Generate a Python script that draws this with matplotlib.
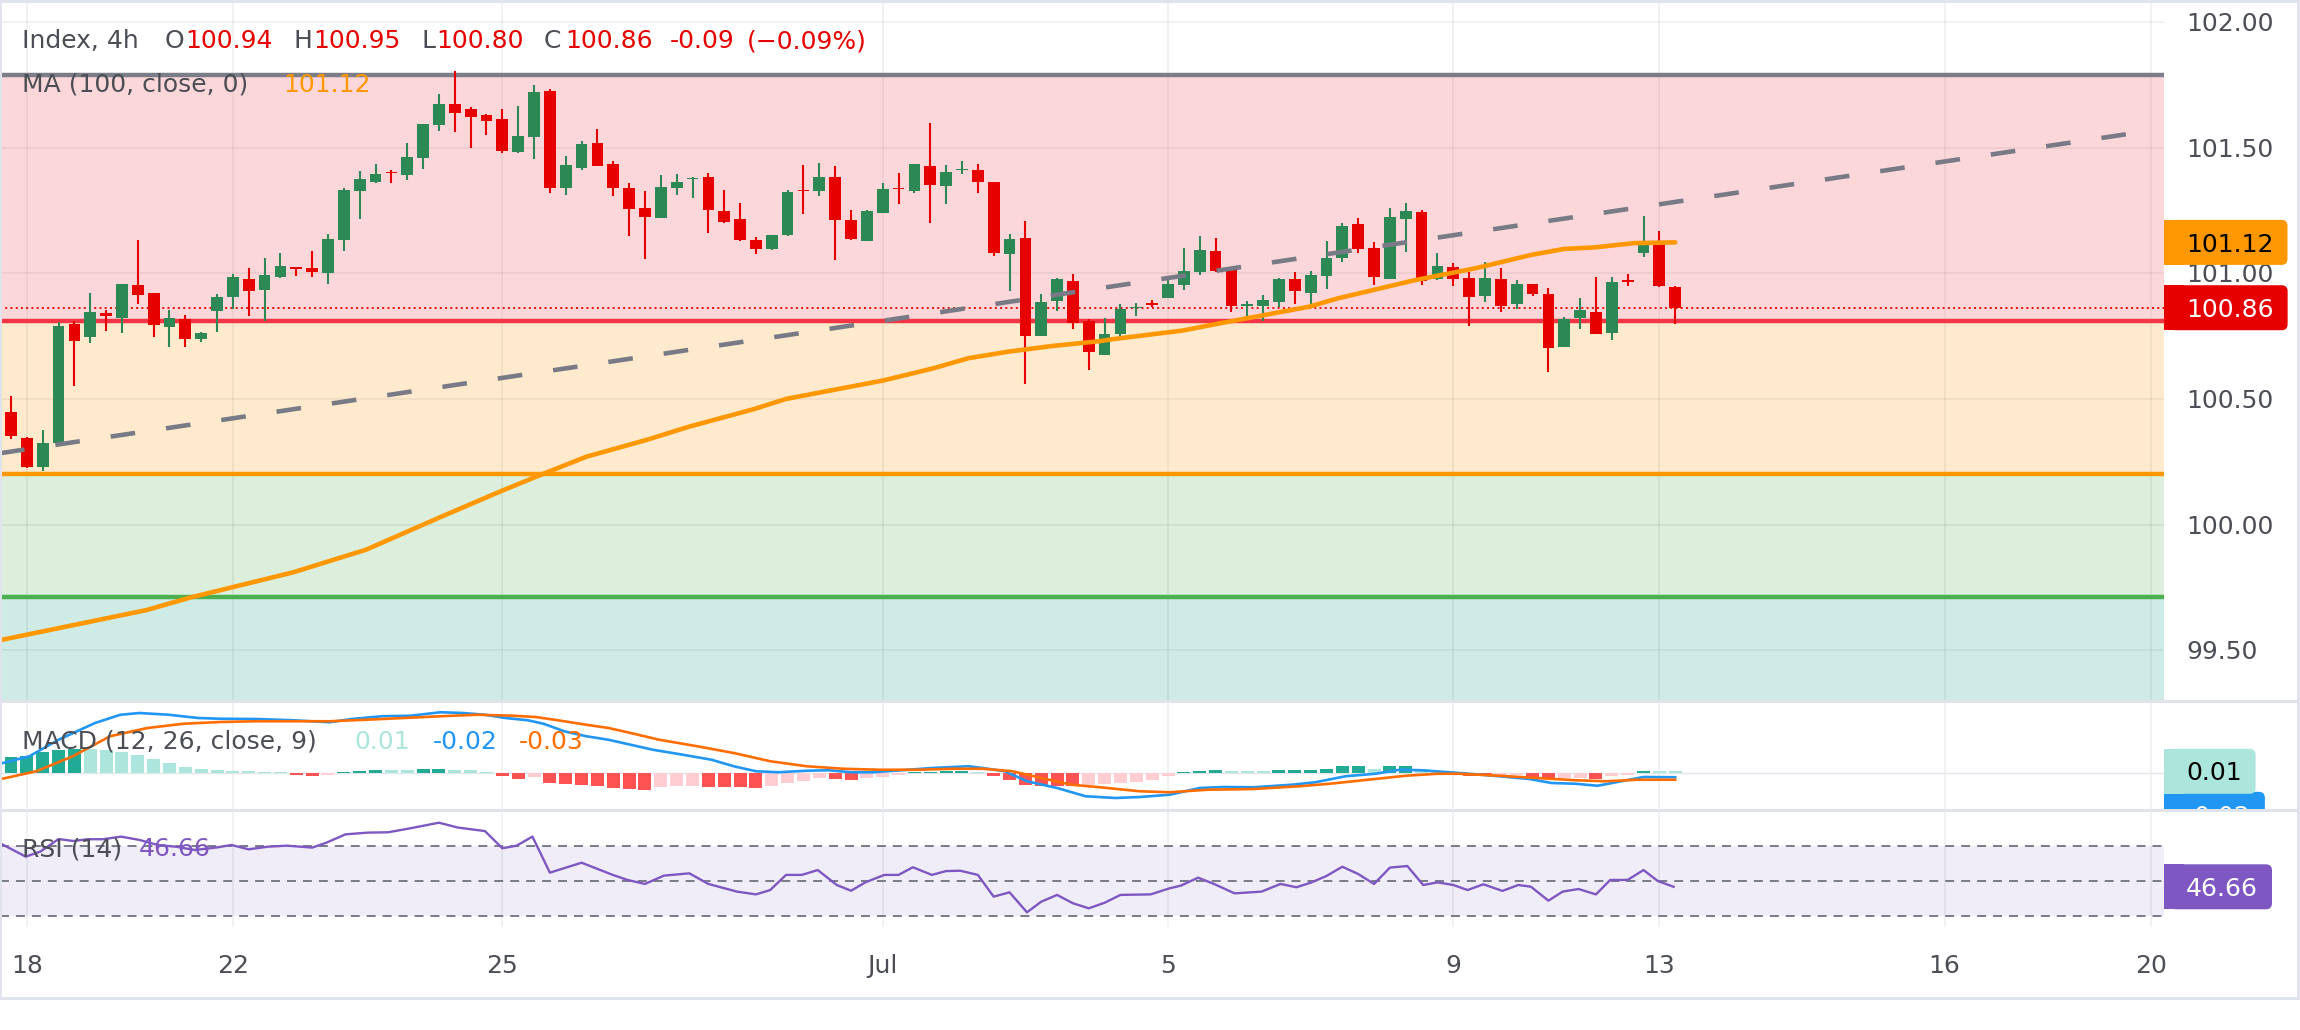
import matplotlib
matplotlib.use("Agg")
import matplotlib.pyplot as plt
from matplotlib.patches import Rectangle, FancyBboxPatch
import numpy as np

plt.rcParams['font.family'] = ['DejaVu Sans', 'Noto Sans']

# ---------------- data ----------------
opens = [100.447, 100.343, 100.231, 100.323, 100.798, 100.748, 100.841, 100.824, 100.952, 100.920,
         100.788, 100.817, 100.740, 100.851, 100.907, 100.976, 100.934, 100.987, 101.026, 101.020,
         101.003, 101.133, 101.329, 101.365, 101.402, 101.391, 101.460, 101.590, 101.674, 101.653,
         101.630, 101.613, 101.484, 101.544, 101.725, 101.338, 101.418, 101.517, 101.435, 101.340,
         101.260, 101.221, 101.341, 101.374, 101.383, 101.248, 101.216, 101.133, 101.097, 101.152,
         101.332, 101.328, 101.383, 101.211, 101.130, 101.241, 101.340, 101.329, 101.427, 101.347,
         101.410, 101.411, 101.363, 101.077, 101.141, 100.751, 100.891, 100.969, 100.810, 100.675,
         100.758, 100.861, 100.880, 100.903, 100.954, 101.007, 101.089, 101.013, 100.871, 100.871,
         100.887, 100.977, 100.923, 100.991, 101.062, 101.196, 101.099, 100.977, 101.216, 101.244,
         100.977, 101.024, 100.980, 100.911, 100.976, 100.877, 100.956, 100.916, 100.708, 100.824,
         100.847, 100.764, 100.973, 101.082, 101.125, 100.944]
highs = [100.512, 100.350, 100.377, 100.805, 100.810, 100.920, 100.854, 100.958, 101.131, 100.920,
         100.854, 100.833, 100.766, 100.916, 100.996, 101.020, 101.060, 101.079, 101.026, 101.087,
         101.156, 101.340, 101.407, 101.435, 101.411, 101.517, 101.593, 101.714, 101.805, 101.660,
         101.634, 101.653, 101.666, 101.749, 101.732, 101.467, 101.527, 101.574, 101.447, 101.358,
         101.327, 101.391, 101.395, 101.382, 101.399, 101.332, 101.279, 101.143, 101.152, 101.332,
         101.431, 101.439, 101.427, 101.252, 101.252, 101.359, 101.399, 101.435, 101.598, 101.431,
         101.447, 101.435, 101.363, 101.156, 101.208, 100.918, 100.981, 100.997, 100.818, 100.824,
         100.878, 100.880, 100.894, 100.980, 101.099, 101.148, 101.139, 101.016, 100.891, 100.914,
         100.980, 101.005, 101.009, 101.129, 101.199, 101.219, 101.126, 101.259, 101.279, 101.252,
         101.079, 101.040, 101.004, 101.044, 101.020, 100.973, 100.956, 100.940, 100.825, 100.900,
         100.987, 100.987, 100.998, 101.228, 101.168, 100.949]
lows = [100.339, 100.225, 100.215, 100.320, 100.553, 100.721, 100.772, 100.764, 100.878, 100.748,
        100.708, 100.705, 100.728, 100.768, 100.859, 100.831, 100.812, 100.980, 100.991, 100.987,
        100.957, 101.090, 101.216, 101.358, 101.361, 101.371, 101.415, 101.568, 101.564, 101.500,
        101.550, 101.480, 101.480, 101.454, 101.318, 101.313, 101.411, 101.428, 101.309, 101.150,
        101.057, 101.221, 101.312, 101.301, 101.162, 101.199, 101.129, 101.077, 101.093, 101.148,
        101.236, 101.308, 101.053, 101.133, 101.130, 101.241, 101.276, 101.321, 101.200, 101.276,
        101.395, 101.320, 101.069, 100.931, 100.561, 100.751, 100.851, 100.780, 100.615, 100.675,
        100.751, 100.830, 100.867, 100.903, 100.934, 100.993, 101.005, 100.847, 100.824, 100.812,
        100.867, 100.878, 100.861, 100.938, 101.046, 101.080, 100.954, 100.977, 101.086, 100.954,
        100.973, 100.951, 100.792, 100.887, 100.847, 100.857, 100.910, 100.606, 100.708, 100.777,
        100.757, 100.735, 100.951, 101.066, 100.947, 100.798]
closes = [100.354, 100.231, 100.323, 100.790, 100.732, 100.845, 100.832, 100.958, 100.915, 100.796,
          100.821, 100.740, 100.761, 100.904, 100.984, 100.931, 100.992, 101.028, 101.016, 101.007,
          101.135, 101.332, 101.374, 101.394, 101.398, 101.461, 101.593, 101.674, 101.639, 101.623,
          101.607, 101.488, 101.546, 101.723, 101.338, 101.430, 101.515, 101.428, 101.338, 101.257,
          101.225, 101.344, 101.363, 101.379, 101.253, 101.204, 101.133, 101.098, 101.152, 101.324,
          101.326, 101.383, 101.212, 101.137, 101.248, 101.336, 101.334, 101.435, 101.351, 101.403,
          101.415, 101.363, 101.082, 101.137, 100.751, 100.886, 100.977, 100.802, 100.688, 100.758,
          100.858, 100.867, 100.874, 100.958, 101.009, 101.093, 101.009, 100.870, 100.878, 100.894,
          100.977, 100.931, 100.993, 101.060, 101.188, 101.097, 100.987, 101.223, 101.248, 100.971,
          101.029, 100.977, 100.907, 100.980, 100.870, 100.956, 100.916, 100.701, 100.817, 100.854,
          100.757, 100.964, 100.967, 101.125, 100.949, 100.863]

# MA(100) line, read at bar positions
ma_x = [-0.69, 8.56, 11.33, 17.8, 22.4, 27.1, 30.8, 33.5, 36.3, 40.1, 42.8, 46.9, 48.9, 51.4, 55.0,
        58.2, 60.4, 62.9, 65.6, 68.7, 69.4, 73.9, 76.2, 81.9, 83.7, 88.6, 92.4, 95.9, 98.0, 99.9,
        102.4, 105.0]
ma_y = [99.54, 99.66, 99.71, 99.81, 99.90, 100.03, 100.13, 100.20, 100.27, 100.337, 100.39, 100.46,
        100.50, 100.53, 100.573, 100.622, 100.662, 100.688, 100.71, 100.73, 100.737, 100.772, 100.80,
        100.867, 100.90, 100.973, 101.02, 101.073, 101.097, 101.103, 101.12, 101.123]

# dashed trend line end points (bar, price)
trend_x = [-0.69, 134.8]
trend_y = [100.284, 101.566]

# horizontal levels
level_top = 101.79
level_red = 100.81
level_orange = 100.20
level_green = 99.71

# MACD histogram per bar
hist = [0.064, 0.069, 0.084, 0.093, 0.098, 0.096, 0.091, 0.084, 0.074, 0.058,
        0.042, 0.026, 0.0144, 0.011, 0.009, 0.007, 0.004, 0.003, -0.008, -0.012,
        -0.007, 0.0044, 0.008, 0.012, 0.0116, 0.0112, 0.0152, 0.016, 0.0136, 0.0104,
        0.0052, -0.012, -0.022, -0.016, -0.0388, -0.042, -0.046, -0.052, -0.058, -0.0632,
        -0.066, -0.0568, -0.0512, -0.0504, -0.056, -0.0572, -0.0576, -0.058, -0.0532, -0.040,
        -0.0332, -0.0212, -0.0232, -0.0268, -0.0212, -0.0148, -0.0092, 0.004, 0.0052, 0.0068,
        0.008, 0.0052, -0.0132, -0.0268, -0.0468, -0.0508, -0.0516, -0.0528, -0.0468, -0.042,
        -0.040, -0.034, -0.0268, -0.0132, 0.004, 0.0092, 0.0132, 0.008, 0.0068, 0.0064,
        0.0108, 0.0112, 0.0116, 0.016, 0.0268, 0.0272, 0.0172, 0.0268, 0.0292, 0.0172,
        0.0068, -0.0028, -0.0108, -0.0112, -0.0068, -0.006, -0.020, -0.0208, -0.0192, -0.018,
        -0.024, -0.0132, -0.008, 0.0092, 0.0088, 0.0068]

macd_x = [-0.69, 1.16, 3.0, 5.3, 6.9, 8.1, 9.95, 11.8, 13.2, 15.5, 17.8, 20.1, 21.5, 23.4, 25.2,
          27.1, 28.5, 29.9, 31.2, 32.6, 33.6, 34.9, 36.3, 37.7, 39.1, 40.5, 42.4, 44.2, 45.6, 47.0,
          48.4, 50.2, 51.6, 53.0, 54.4, 56.2, 58.1, 60.4, 61.3, 62.7, 64.1, 66.0, 67.8, 69.7, 71.2,
          73.1, 75.0, 76.5, 78.4, 80.8, 82.3, 84.2, 86.1, 87.6, 89.0, 91.4, 93.9, 95.8, 97.2, 98.7,
          100.1, 101.6, 103.0, 105.0]
macd_y = [0.037, 0.067, 0.133, 0.200, 0.233, 0.240, 0.233, 0.220, 0.217, 0.216, 0.211, 0.203, 0.216,
          0.227, 0.229, 0.243, 0.240, 0.233, 0.220, 0.211, 0.197, 0.167, 0.147, 0.133, 0.113, 0.093,
          0.073, 0.053, 0.027, 0.007, 0.003, 0.009, 0.011, 0.003, 0.003, 0.011, 0.020, 0.027, 0.020,
          0.007, -0.033, -0.060, -0.093, -0.100, -0.096, -0.087, -0.060, -0.056, -0.057, -0.047,
          -0.037, -0.013, -0.003, 0.013, 0.011, 0.000, -0.013, -0.024, -0.040, -0.043, -0.051,
          -0.033, -0.016, -0.017]
signal_x = [-0.69, 1.6, 3.9, 6.25, 8.6, 10.9, 13.2, 15.5, 17.8, 20.1, 22.4, 24.8, 27.1, 29.4, 31.7,
            33.1, 34.5, 36.3, 37.7, 39.1, 40.9, 43.3, 45.6, 47.9, 50.2, 52.5, 54.8, 57.2, 59.5, 61.3,
            63.2, 65.0, 66.9, 68.7, 71.2, 73.1, 75.5, 78.4, 81.3, 83.2, 85.6, 88.0, 90.0, 91.4, 93.9,
            96.3, 98.7, 100.6, 102.6, 105.0]
signal_y = [-0.025, 0.007, 0.067, 0.147, 0.180, 0.197, 0.204, 0.207, 0.207, 0.207, 0.213, 0.220,
            0.227, 0.233, 0.229, 0.224, 0.211, 0.193, 0.180, 0.160, 0.133, 0.107, 0.080, 0.047,
            0.027, 0.017, 0.013, 0.013, 0.017, 0.017, 0.007, -0.020, -0.047, -0.057, -0.073, -0.077,
            -0.067, -0.064, -0.053, -0.043, -0.027, -0.011, -0.003, -0.003, -0.011, -0.020, -0.029,
            -0.033, -0.027, -0.027]

rsi_x = [-0.69, 0.93, 1.85, 3.0, 3.94, 4.86, 5.8, 6.95, 8.1, 9.26, 10.4, 11.6, 13.0, 13.9, 15.0,
         16.2, 17.4, 19.0, 19.9, 21.1, 22.5, 23.8, 25.2, 27.0, 28.2, 29.9, 31.0, 31.9, 32.9, 34.0,
         36.0, 38.0, 38.9, 40.0, 41.2, 42.8, 44.0, 45.8, 47.0, 47.9, 48.9, 49.9, 50.9, 52.1, 53.0,
         53.9, 55.1, 56.0, 56.9, 58.1, 59.0, 59.9, 61.0, 62.0, 63.0, 64.1, 65.0, 66.0, 67.0, 68.0,
         69.0, 70.0, 71.9, 73.1, 73.8, 74.9, 75.9, 77.2, 78.9, 80.1, 81.1, 82.0, 83.0, 84.0, 85.0,
         86.0, 87.0, 88.1, 89.1, 90.0, 91.0, 91.9, 92.9, 94.1, 95.1, 95.9, 97.0, 97.9, 98.9, 100.0,
         100.9, 102.0, 103.0, 103.9, 104.9]
rsi_y = [71.7, 64.0, 66.9, 74.1, 73.0, 74.0, 74.0, 75.5, 73.6, 70.7, 69.7, 67.8, 69.3, 70.7, 68.2,
         69.7, 70.3, 69.2, 72.0, 76.8, 77.8, 78.0, 80.3, 83.5, 80.7, 78.7, 68.8, 70.3, 75.5, 54.8,
         60.5, 53.4, 50.6, 48.3, 53.1, 54.4, 48.3, 43.9, 42.3, 44.8, 53.5, 53.5, 56.3, 47.7, 44.4,
         49.2, 53.5, 53.5, 57.9, 53.5, 55.7, 55.9, 53.5, 41.0, 43.5, 32.0, 38.1, 42.0, 37.2, 34.3,
         37.5, 42.0, 42.3, 45.8, 47.3, 51.9, 48.3, 42.9, 43.9, 48.3, 46.4, 49.0, 52.9, 58.2, 54.0,
         48.3, 57.7, 58.6, 47.7, 49.2, 47.7, 44.8, 48.1, 44.3, 47.7, 46.7, 38.7, 43.9, 45.4, 42.3,
         50.6, 50.6, 56.3, 50.0, 46.66]

tick_pos = [1, 14, 31, 55, 73, 91, 104, 122, 135]
tick_labels = ['18', '22', '25', 'Jul', '5', '9', '13', '16', '20']
price_ticks = [99.5, 100.0, 100.5, 101.0, 101.5, 102.0]

# ---------------- styling ----------------
W, H, DPI = 2300, 1030, 100
PANE_R = 2164
TXT = '#4c4e56'
GREEN = '#2c8956'
RED = '#e60000'
FS = 18

fig = plt.figure(figsize=(W / DPI, H / DPI), dpi=DPI)
fig.patch.set_facecolor('white')


def add_pane(top, bottom):
    a = fig.add_axes([0, 1 - bottom / H, PANE_R / W, (bottom - top) / H])
    a.set_xlim(-0.694, 135.84)
    a.set_axis_off()
    return a


ax_p = add_pane(3, 700)
ax_m = add_pane(703, 810)
ax_r = add_pane(810, 927)

ax_p.set_ylim(99.302, 102.0756)
ax_m.set_ylim(-0.148, 0.28)
ax_r.set_ylim(23.56, 90.8)

GRID = dict(color='black', alpha=0.055, lw=1.3)

# ---- price pane ----
y0, y1 = ax_p.get_ylim()
ax_p.axhspan(level_red, level_top, color='#fcd7da', lw=0, zorder=0)
ax_p.axhspan(level_orange, level_red, color='#ffeacd', lw=0, zorder=0)
ax_p.axhspan(level_green, level_orange, color='#dbefdc', lw=0, zorder=0)
ax_p.axhspan(y0, level_green, color='#cfebe6', lw=0, zorder=0)
for v in price_ticks:
    ax_p.axhline(v, zorder=0.5, **GRID)
for a in (ax_p, ax_m, ax_r):
    for t in tick_pos:
        a.axvline(t, zorder=0.5, **GRID)

ax_p.axhline(level_top, color='#7b7d89', lw=3.2, zorder=1)
ax_p.axhline(level_red, color='#f23645', lw=3.2, zorder=1)
ax_p.axhline(level_orange, color='#ff9800', lw=3.2, zorder=1)
ax_p.axhline(level_green, color='#4caf50', lw=3.2, zorder=1)
ax_p.axhline(closes[-1], color=RED, lw=1.3, linestyle=(0, (1.1, 1.8)), zorder=1.2)

o = np.array(opens); h = np.array(highs); l = np.array(lows); c = np.array(closes)
x = np.arange(len(o))
cols = [GREEN if cc >= oo else RED for oo, cc in zip(o, c)]
ax_p.vlines(x, l, h, colors=cols, lw=1.5, zorder=2)
body_b = np.minimum(o, c)
body_h = np.maximum(np.abs(c - o), 0.006)
ax_p.bar(x, body_h, bottom=body_b, width=0.74, color=cols, lw=0, zorder=2.1)

ax_p.plot(ma_x, ma_y, color='#ff9800', lw=3.3, zorder=3, solid_capstyle='round')
ax_p.plot(trend_x, trend_y, color='#787b86', lw=3.3, dashes=(5.4, 6.8), zorder=3.5)

# ---- MACD pane ----
ax_m.axhline(0, color='#e4e6ec', lw=1.0, zorder=1)
hcols = []
prev = -np.inf
for v in hist:
    if v >= 0:
        hcols.append('#22ab94' if v >= prev else '#ace5dc')
    else:
        hcols.append('#ff5252' if v < prev else '#ffcdd2')
    prev = v
ax_m.bar(x, hist, width=0.82, color=hcols, lw=0, zorder=2)
ax_m.plot(macd_x, macd_y, color='#2196f3', lw=1.9, zorder=3)
ax_m.plot(signal_x, signal_y, color='#ff6d00', lw=1.9, zorder=3)

# ---- RSI pane ----
ax_r.axhspan(30, 70, color='#7e57c2', alpha=0.1, lw=0, zorder=0)
for lv in (70, 50, 30):
    ax_r.axhline(lv, color='#787b86', lw=1.4, dashes=(4.6, 3.6), zorder=1)
ax_r.plot(rsi_x, rsi_y, color='#7e57c2', lw=1.7, zorder=3)

# ---------------- overlay (pixel coordinates) ----------------
ov = fig.add_axes([0, 0, 1, 1], zorder=10)
ov.set_xlim(0, W)
ov.set_ylim(H, 0)
ov.set_axis_off()
renderer = fig.canvas.get_renderer()


def ypx(a, v):
    return H - a.transData.transform((0, v))[1]


def xpx(a, v):
    return a.transData.transform((v, 0))[0]


SEP = '#e0e3eb'
for (yy, hh) in ((0, 3), (700, 3), (809, 2.5), (997, 2.5)):
    ov.add_patch(Rectangle((0, yy), W, hh, color=SEP, lw=0, zorder=5))
ov.add_patch(Rectangle((W - 3, 0), 3, 999, color=SEP, lw=0, zorder=5))
ov.add_patch(Rectangle((0, 0), 1.5, 999, color=SEP, lw=0, zorder=5))

CAP = 9.2  # half digit height, to centre digits on a level


def txt(xx, yy, s, color=TXT, ha='left', z=3, **kw):
    return ov.text(xx, yy, s, color=color, fontsize=FS, ha=ha, va='baseline', zorder=z, **kw)


# price axis labels
for v in price_ticks:
    txt(2186, ypx(ax_p, v) + CAP, f'{v:.2f}', z=1)

# time axis labels
for t, lab in zip(tick_pos, tick_labels):
    txt(xpx(ax_r, t), 973, lab, ha='center')


def value_box(yc, s, bg, fg, clip=None, z=2):
    t = txt(2186, yc + CAP, s, color=fg, z=z + 0.5)
    wpx = t.get_window_extent(renderer).width
    right = 2186 + wpx + 14
    r1 = Rectangle((PANE_R, yc - 22.5), 20, 45, color=bg, lw=0, zorder=z)
    r2 = FancyBboxPatch((PANE_R + 6, yc - 22.5), right - PANE_R - 6, 45,
                        boxstyle='round,pad=0,rounding_size=6', color=bg, lw=0, zorder=z)
    ov.add_patch(r1)
    ov.add_patch(r2)
    if clip is not None:
        for art in (t, r1, r2):
            art.set_clip_path(clip)


value_box(ypx(ax_p, ma_y[-1]), f'{ma_y[-1]:.2f}', '#ff9800', 'black')
value_box(ypx(ax_p, closes[-1]), f'{closes[-1]:.2f}', RED, 'white')

macd_clip = Rectangle((PANE_R, 703), W - PANE_R, 106, transform=ov.transData)
yc_hist = ypx(ax_m, hist[-1])
value_box(yc_hist + 43, f'{macd_y[-1]:.2f}', '#2196f3', 'white', clip=macd_clip, z=2)
value_box(yc_hist, f'{hist[-1]:.2f}', '#ace5dc', 'black', clip=macd_clip, z=2.8)

value_box(ypx(ax_r, rsi_y[-1]), f'{rsi_y[-1]:.2f}', '#7e57c2', 'white')

# legends
chg = closes[-1] - closes[-2]
pct = chg / closes[-2] * 100
legend_pieces = [(22, 'Index, 4h', TXT), (165, 'O', TXT), (185, f'{opens[-1]:.2f}', RED),
                 (293, 'H', TXT), (313, f'{highs[-1]:.2f}', RED),
                 (422, 'L', TXT), (436, f'{lows[-1]:.2f}', RED),
                 (544, 'C', TXT), (565, f'{closes[-1]:.2f}', RED),
                 (670, f'{chg:.2f}', RED), (747, f'(\u2212{abs(pct):.2f}%)', RED)]
for xx, s, col in legend_pieces:
    txt(xx, 48, s, color=col)

txt(22, 91.7, 'MA (100, close, 0)')
txt(283, 91.7, f'{ma_y[-1]:.2f}', color='#ff9800')

txt(22, 749, 'MACD (12, 26, close, 9)')
txt(354, 749, f'{hist[-1]:.2f}', color='#ace5dc')
txt(433, 749, f'{macd_y[-1]:.2f}', color='#2196f3')
txt(519, 749, f'{signal_y[-1]:.2f}', color='#ff6d00')

txt(22, 856, 'RSI (14)')
txt(139, 856, f'{rsi_y[-1]:.2f}', color='#7e57c2')

fig.savefig('out.png', dpi=DPI, facecolor='white')
